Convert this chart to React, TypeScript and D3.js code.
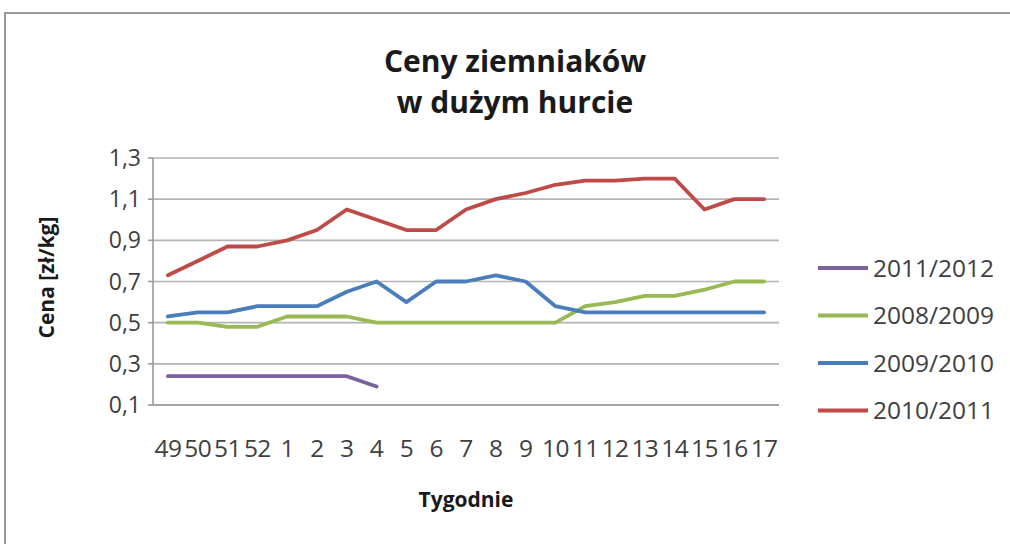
import React from "react";
import * as d3 from "d3";

const weeks = ["49", "50", "51", "52", "1", "2", "3", "4", "5", "6", "7", "8", "9", "10", "11", "12", "13", "14", "15", "16", "17"];

const season2011_2012 = [0.24, 0.24, 0.24, 0.24, 0.24, 0.24, 0.24, 0.19];
const season2008_2009 = [0.5, 0.5, 0.48, 0.48, 0.53, 0.53, 0.53, 0.5, 0.5, 0.5, 0.5, 0.5, 0.5, 0.5, 0.58, 0.6, 0.63, 0.63, 0.66, 0.7, 0.7];
const season2009_2010 = [0.53, 0.55, 0.55, 0.58, 0.58, 0.58, 0.65, 0.7, 0.6, 0.7, 0.7, 0.73, 0.7, 0.58, 0.55, 0.55, 0.55, 0.55, 0.55, 0.55, 0.55];
const season2010_2011 = [0.73, 0.8, 0.87, 0.87, 0.9, 0.95, 1.05, 1.0, 0.95, 0.95, 1.05, 1.1, 1.13, 1.17, 1.19, 1.19, 1.2, 1.2, 1.05, 1.1, 1.1];

const yTicks = [0.1, 0.3, 0.5, 0.7, 0.9, 1.1, 1.3];

const seriesNames = ["2011/2012", "2008/2009", "2009/2010", "2010/2011"];
const seriesValues = [season2011_2012, season2008_2009, season2009_2010, season2010_2011];
const seriesColors = ["#7d60a0", "#98b954", "#4a7ebb", "#be4b48"];

const FONT = "'Open Sans', 'Noto Sans', sans-serif";

export default function App() {
  const W = 1010;
  const H = 544;
  const left = 153;
  const right = 779;
  const top = 158;
  const bottom = 405;

  const x = d3.scaleBand<string>().domain(weeks).range([left, right]).padding(0);
  const cx = (i: number) => (x(weeks[i]) as number) + x.bandwidth() / 2;
  const y = d3.scaleLinear().domain([0.1, 1.3]).range([bottom, top]);

  const line = d3
    .line<number>()
    .x((_, i) => cx(i))
    .y((v) => y(v));

  const fmt = (v: number) => v.toFixed(1).replace(".", ",");

  return (
    <svg
      width={W}
      height={H}
      style={{ position: "absolute", left: 0, top: 0, background: "#fff", overflow: "hidden" }}
      fontFamily={FONT}
    >
      <rect x={0} y={0} width={W} height={H} fill="#fff" />
      {/* chart frame: only the left and top edges fall inside the view */}
      <path d={`M5,${H}V13H${W}`} fill="none" stroke="#9a9a9a" strokeWidth={2} />

      {/* title */}
      <text x={515} y={72} textAnchor="middle" fontSize={30} fontWeight="bold" fill="#1a1a1a">
        Ceny ziemniaków
      </text>
      <text x={515} y={113} textAnchor="middle" fontSize={30} fontWeight="bold" fill="#1a1a1a">
        w dużym hurcie
      </text>

      {/* gridlines */}
      {yTicks.map((t) => (
        <line key={t} x1={left} x2={right} y1={y(t)} y2={y(t)} stroke="#b4b4b4" strokeWidth={1.6} />
      ))}
      {/* axes */}
      <line x1={left} x2={left} y1={top} y2={bottom} stroke="#9a9a9a" strokeWidth={1.6} />
      <line x1={left} x2={right} y1={bottom} y2={bottom} stroke="#9a9a9a" strokeWidth={1.6} />
      {yTicks.map((t) => (
        <line key={"tk" + t} x1={left - 5} x2={left} y1={y(t)} y2={y(t)} stroke="#9a9a9a" strokeWidth={1.6} />
      ))}

      {/* y tick labels */}
      {yTicks.map((t) => (
        <text key={"yl" + t} x={141} y={y(t)} dy="0.35em" textAnchor="end" fontSize={23} fill="#404040">
          {fmt(t)}
        </text>
      ))}

      {/* x tick labels */}
      {weeks.map((w, i) => (
        <text key={"xl" + w} x={cx(i)} y={457} textAnchor="middle" fontSize={24.5} letterSpacing={-0.6} fill="#404040">
          {w}
        </text>
      ))}

      {/* axis titles */}
      <text
        transform={`translate(47, ${(top + bottom) / 2 - 4}) rotate(-90)`}
        textAnchor="middle"
        dy="0.35em"
        fontSize={21}
        fontWeight="bold"
        fill="#1a1a1a"
      >
        Cena [zł/kg]
      </text>
      <text x={466} y={507} textAnchor="middle" fontSize={21} fontWeight="bold" fill="#1a1a1a">
        Tygodnie
      </text>

      {/* series */}
      {seriesValues.map((vals, k) => (
        <path
          key={seriesNames[k]}
          d={line(vals) as string}
          fill="none"
          stroke={seriesColors[k]}
          strokeWidth={3.8}
          strokeLinejoin="round"
          strokeLinecap="round"
        />
      ))}

      {/* legend */}
      {seriesNames.map((name, k) => {
        const ly = 268 + k * 47.5;
        return (
          <g key={"lg" + name}>
            <line x1={818} x2={868} y1={ly} y2={ly} stroke={seriesColors[k]} strokeWidth={3.8} />
            <text x={873} y={ly} dy="0.35em" fontSize={24.5} fill="#404040">
              {name}
            </text>
          </g>
        );
      })}
    </svg>
  );
}
